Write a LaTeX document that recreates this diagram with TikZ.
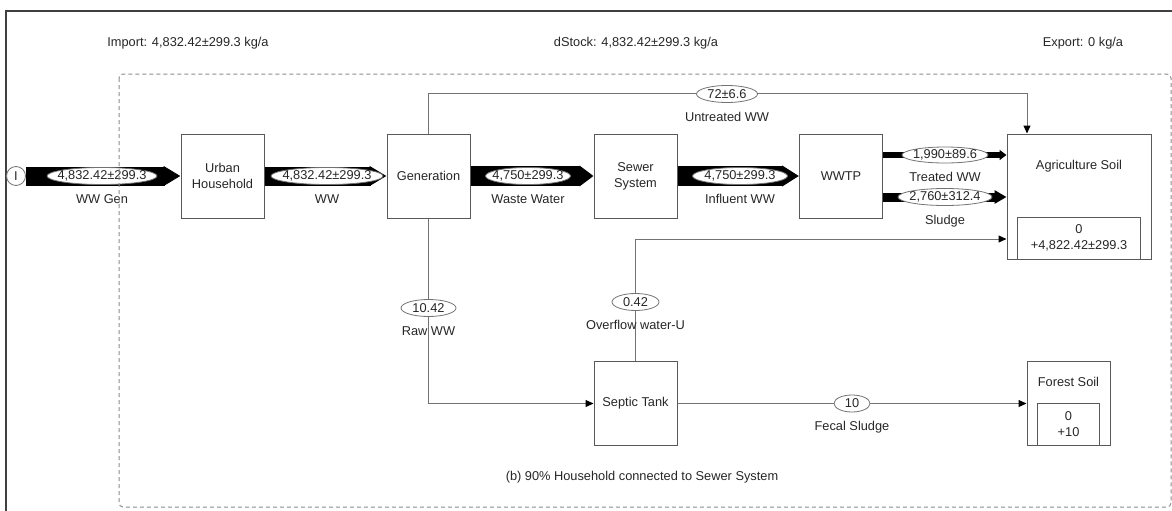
\documentclass[tikz,border=0pt]{standalone}
\usepackage{fontspec}
\setmainfont{Liberation Sans}
\usetikzlibrary{arrows.meta,shapes,positioning}

\begin{document}
\begin{tikzpicture}[x=1pt,y=-1pt,font=\fontsize{12.8}{16}\selectfont,
    every node/.style={text=black!85},
    proc/.style={draw=black!65,line width=1pt,minimum width=83pt,minimum height=84pt,align=center,inner sep=0pt},
    stock/.style={draw=black!65,line width=1pt,minimum height=42pt,align=center,inner sep=0pt},
    val/.style={ellipse,draw=black!55,line width=0.8pt,fill=white,minimum width=#1pt,minimum height=17pt,inner xsep=-10pt,inner ysep=0pt},
    lbl/.style={inner sep=0pt,text height=9.5pt,text depth=2.5pt,below=8.5pt of #1},
    flow/.style n args={3}{draw=black,line width=#1pt,-{Triangle[length=#2pt,width=#3pt]}},
    link/.style={draw=black!55,line width=1pt},
    >={Triangle[black,length=8pt,width=7pt]}]
  \useasboundingbox (0,0) rectangle (1172,511);

  % frame and totals
  \draw[black!75,line width=1.1pt] (6,511) -- (6,11) -- (1172,11);
  \node (import) at (188,43) {Import: 4,832.42±299.3 kg/a};
  \node (dstock) at (636,43) {dStock: 4,832.42±299.3 kg/a};
  \node (export) at (1083,43) {Export: 0 kg/a};

  % processes
  \node[proc] (hh) at (222.5,176) {Urban\\Household};
  \node[proc] (gen) at (428.5,176) {Generation};
  \node[proc] (sewer) at (635.5,176) {Sewer\\System};
  \node[proc] (wwtp) at (841,176) {WWTP};
  \node[proc,minimum width=144pt,minimum height=125pt] (agri) at (1079,196.5) {};
  \node[proc] (septic) at (635.5,403.5) {Septic Tank};
  \node[proc] (forest) at (1068.5,403.5) {};
  \node (agrititle) at ([yshift=-33pt]agri.north) {Agriculture Soil};
  \node (foresttitle) at ([yshift=-21pt]forest.north) {Forest Soil};
  \node[stock,minimum width=123pt,anchor=south] (agristock) at (agri.south) {0\\+4,822.42±299.3};
  \node[stock,minimum width=62pt,anchor=south] (foreststock) at (forest.south) {0\\+10};
  \node[circle,draw=black!55,line width=0.8pt,minimum size=19pt,inner sep=0pt] (imp) at (16,176) {I};

  % main flows
  \draw[flow={19}{17}{19}] (imp.east) -- (hh.west);
  \draw[flow={19}{17}{19}] (hh.east) -- (gen.west);
  \draw[flow={20}{14}{20}] (gen.east) -- (sewer.west);
  \draw[flow={20}{17}{20}] (sewer.east) -- (wwtp.west);
  \draw[flow={6}{7}{10}] ([yshift=21pt]wwtp.east) -- ([yshift=21pt]wwtp.east -| agri.west);
  \draw[flow={9}{12}{13}] ([yshift=-21pt]wwtp.east) -- ([yshift=-21pt]wwtp.east -| agri.west);

  % small flows
  \draw[link,->] (gen.north) -- ++(0,-40) -| ([xshift=-52pt]agri.north);
  \draw[link,->] (gen.south) |- (septic.west);
  \draw[link,->] (septic.north) |- ([yshift=-42.5pt]agri.west);
  \draw[link,->] (septic.east) -- (forest.west);

  % values and names
  \node[val=110] (wwgen) at (102,176) {4,832.42±299.3};
  \node[lbl=wwgen] (wwgenlbl) {WW Gen};
  \node[val=112] (ww) at (327,176) {4,832.42±299.3};
  \node[lbl=ww] (wwlbl) {WW};
  \node[val=85] (waste) at (528,176) {4,750±299.3};
  \node[lbl=waste] (wastelbl) {Waste Water};
  \node[val=95] (influent) at (740,176) {4,750±299.3};
  \node[lbl=influent] (influentlbl) {Influent WW};
  \node[val=86,minimum height=16pt] (treated) at (945,155) {1,990±89.6};
  \node[lbl=treated] (treatedlbl) {Treated WW};
  \node[val=94] (sludge) at (945,197) {2,760±312.4};
  \node[lbl=sludge] (sludgelbl) {Sludge};
  \node[val=61] (untreated) at (727,94) {72±6.6};
  \node[lbl=untreated] (untreatedlbl) {Untreated WW};
  \node[val=55] (raw) at (428.5,308) {10.42};
  \node[lbl=raw] (rawlbl) {Raw WW};
  \node[val=47] (overflow) at (635.5,302) {0.42};
  \node[lbl=overflow] (overflowlbl) {Overflow water-U};
  \node[val=36] (fecal) at (852,403.5) {10};
  \node[lbl=fecal] (fecallbl) {Fecal Sludge};

  % system boundary
  \draw[black!45,line width=1pt,dash pattern=on 4pt off 3pt,rounded corners=4pt] (119,74) rectangle (1171,507);
  \node (caption) at (642,477) {(b) 90\% Household connected to Sewer System};
\end{tikzpicture}
\end{document}
